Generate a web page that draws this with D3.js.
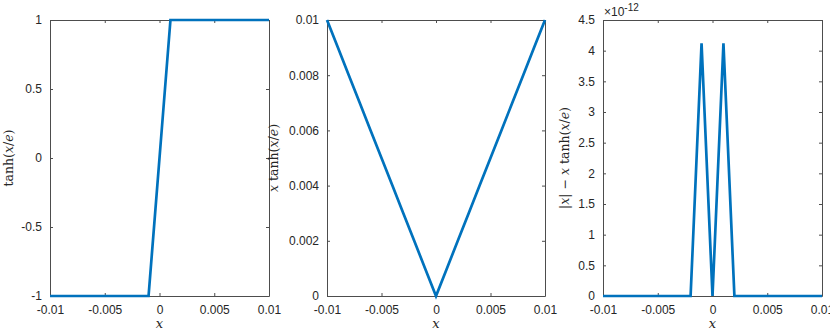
<!DOCTYPE html>
<html><head><meta charset="utf-8">
<script src="https://cdn.jsdelivr.net/npm/d3@7"></script>
<style>
body{margin:0;background:#fff;}
text{font-family:"Liberation Sans",Arial,Helvetica,sans-serif;}
.math{font-family:"DejaVu Serif","Liberation Serif",serif;}
</style></head><body>
<svg id="c" width="830" height="333"></svg>
<script>
// Data (x sampled at 0.001 steps)
const xValues = [-0.01,-0.009,-0.008,-0.007,-0.006,-0.005,-0.004,-0.003,-0.002,-0.001,0,0.001,0.002,0.003,0.004,0.005,0.006,0.007,0.008,0.009,0.01];
const tanhValues = [-1,-1,-1,-1,-1,-1,-1,-1,-1,-1,0,1,1,1,1,1,1,1,1,1,1];
const xTanhValues = [0.01,0.009,0.008,0.007,0.006,0.005,0.004,0.003,0.002,0.001,0,0.001,0.002,0.003,0.004,0.005,0.006,0.007,0.008,0.009,0.01];
const diffValues = [0,0,0,0,0,0,0,0,0,4.122e-12,0,4.122e-12,0,0,0,0,0,0,0,0,0];
const xTicks = [-0.01,-0.005,0,0.005,0.01];
const xTickLabels = ["-0.01","-0.005","0","0.005","0.01"];
const y1Ticks = [-1,-0.5,0,0.5,1];
const y1TickLabels = ["-1","-0.5","0","0.5","1"];
const y2Ticks = [0,0.002,0.004,0.006,0.008,0.01];
const y2TickLabels = ["0","0.002","0.004","0.006","0.008","0.01"];
const y3Ticks = [0,0.5e-12,1e-12,1.5e-12,2e-12,2.5e-12,3e-12,3.5e-12,4e-12,4.5e-12];
const y3TickLabels = ["0","0.5","1","1.5","2","2.5","3","3.5","4","4.5"];

const svg = d3.select("#c");
const plotTop = 20, plotBottom = 296;
const axisColor = "#4d4d4d";
const lineColor = "#0072BD";

const panels = [
  {left:50, right:269, y:tanhValues, dom:[-1,1], ticks:y1Ticks, labels:y1TickLabels, labelX:13,
   ylabel:[["tanh(",false],["x",true],["/",false],["e",true],[")",false]]},
  {left:327, right:545, y:xTanhValues, dom:[0,0.01], ticks:y2Ticks, labels:y2TickLabels, labelX:278,
   ylabel:[["x",true],[" tanh(",false],["x",true],["/",false],["e",true],[")",false]]},
  {left:603, right:822, y:diffValues, dom:[0,4.5e-12], ticks:y3Ticks, labels:y3TickLabels, labelX:569, exp:true,
   ylabel:[["|",false],["x",true],["| − ",false],["x",true],[" tanh(",false],["x",true],["/",false],["e",true],[")",false]]}
];

panels.forEach(p => {
  const x = d3.scaleLinear().domain([-0.01,0.01]).range([p.left,p.right]);
  const y = d3.scaleLinear().domain(p.dom).range([plotBottom,plotTop]);
  const g = svg.append("g");
  const tl = 3;
  const ax = d3.axisBottom(x).tickValues(xTicks).tickFormat((d,i)=>xTickLabels[i]).tickSizeInner(-tl).tickSizeOuter(0).tickPadding(9);
  const gb = g.append("g").attr("transform",`translate(0,${plotBottom})`).call(ax);
  const at = d3.axisTop(x).tickValues(xTicks).tickFormat("").tickSizeInner(-tl).tickSizeOuter(0);
  const gt = g.append("g").attr("transform",`translate(0,${plotTop})`).call(at);
  const al = d3.axisLeft(y).tickValues(p.ticks).tickFormat((d,i)=>p.labels[i]).tickSizeInner(-tl).tickSizeOuter(0).tickPadding(8);
  const gl = g.append("g").attr("transform",`translate(${p.left},0)`).call(al);
  const ar = d3.axisRight(y).tickValues(p.ticks).tickFormat("").tickSizeInner(-tl).tickSizeOuter(0);
  const gr = g.append("g").attr("transform",`translate(${p.right},0)`).call(ar);
  [gb,gt,gl,gr].forEach(a=>{
    a.select(".domain").attr("stroke",axisColor).attr("stroke-width",1);
    a.selectAll(".tick line").attr("stroke",axisColor);
    a.selectAll(".tick text").attr("fill","#262626").style("font-size","12px").style("font-family","'Liberation Sans',Arial,sans-serif");
  });
  const line = d3.line().x((d,i)=>x(xValues[i])).y(d=>y(d));
  g.append("path").datum(p.y).attr("d",line).attr("fill","none")
   .attr("stroke",lineColor).attr("stroke-width",2.7).attr("stroke-linejoin","miter");
  g.append("text").attr("class","math").attr("x",(p.left+p.right)/2).attr("y",328)
   .attr("text-anchor","middle").style("font-size","13px").style("font-style","italic").attr("fill","#262626").text("x");
  const yl = g.append("text").attr("class","math").attr("transform",`translate(${p.labelX},${(plotTop+plotBottom)/2}) rotate(-90)`)
   .attr("text-anchor","middle").style("font-size","12.5px").attr("fill","#262626");
  p.ylabel.forEach(([t,it])=>{
    yl.append("tspan").style("font-style",it?"italic":"normal").text(t);
  });
  if(p.exp){
    const et = g.append("text").attr("x",p.left+1).attr("y",16).attr("fill","#262626").style("font-size","12px");
    et.append("tspan").text("×10");
    et.append("tspan").attr("dy",-5).style("font-size","10px").text("-12");
  }
});
</script>
</body></html>
